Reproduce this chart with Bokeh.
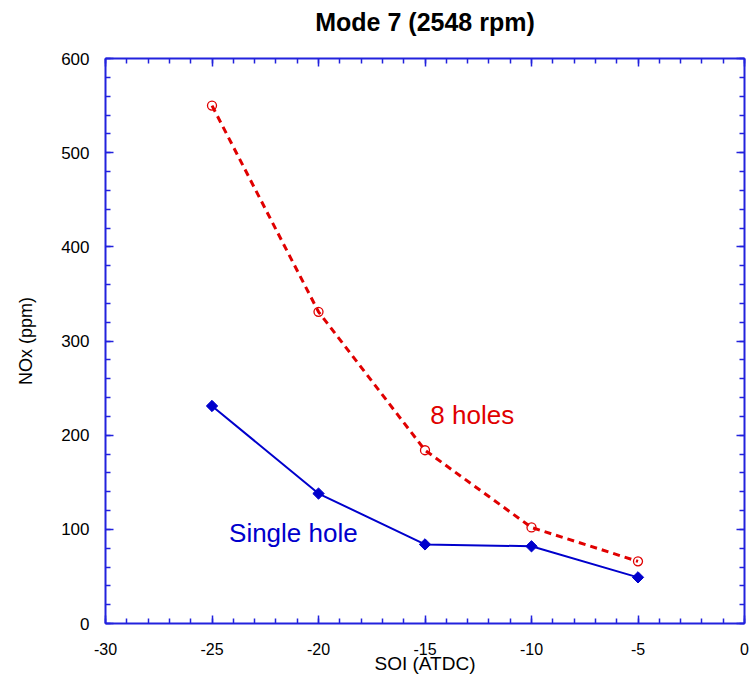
from bokeh.plotting import figure
from bokeh.models import Range1d, LinearAxis, SingleIntervalTicker, Label, CustomJSTickFormatter
from bokeh.embed import file_html
from bokeh.resources import INLINE
import math

# Data
soi = [-25, -20, -15, -10, -5]
nox_8holes = [550, 331, 184, 102, 66]
nox_single = [231, 138, 84, 82, 49]

series_names = ["8 holes", "Single hole"]
label_x = [-14.75, -24.2]
label_y = [221, 96]

x_ticks_interval = 5
y_ticks_interval = 100

AXIS_COLOR = "#2222dd"
FONT = "Liberation Sans"
W, H = 753, 680

p = figure(width=W, height=H, output_backend="svg", toolbar_location=None,
           x_range=Range1d(-30, 0), y_range=Range1d(0, 600),
           min_border_left=105, min_border_right=9, min_border_top=58, min_border_bottom=57,
           x_axis_label="SOI (ATDC)", y_axis_label="NOx (ppm)")
p.outline_line_color = None
p.xgrid.visible = False
p.ygrid.visible = False

p.title.text = "Mode 7 (2548 rpm)"
p.title.align = "center"
p.title.offset = 4
p.title.text_font = FONT
p.title.text_font_size = "25px"
p.title.text_font_style = "bold"
p.title.text_color = "black"
p.title.standoff = 6
p.title.padding = dict(left=0, right=0, top=0, bottom=20)

xt = SingleIntervalTicker(interval=x_ticks_interval, num_minor_ticks=5)
yt = SingleIntervalTicker(interval=y_ticks_interval, num_minor_ticks=5)

p.add_layout(LinearAxis(), "right")
p.add_layout(LinearAxis(), "above")

for ax in p.xaxis:
    ax.ticker = xt
for ax in p.yaxis:
    ax.ticker = yt

for ax in p.axis:
    ax.axis_line_color = AXIS_COLOR
    ax.axis_line_width = 2
    ax.major_tick_line_color = AXIS_COLOR
    ax.minor_tick_line_color = AXIS_COLOR
    ax.major_tick_line_width = 1.5
    ax.minor_tick_line_width = 1.5
    ax.major_tick_in = 8
    ax.major_tick_out = 0
    ax.minor_tick_in = 5
    ax.minor_tick_out = 0
    ax.major_label_text_font = FONT
    ax.major_label_text_font_size = "17px"
    ax.major_label_text_color = "black"
    ax.axis_label_text_font = FONT
    ax.axis_label_text_font_style = "normal"
    ax.axis_label_text_color = "black"
    ax.formatter = CustomJSTickFormatter(code="return String(tick);")

# mirrored axes: no labels
for ax in (p.right[0], p.above[0]):
    ax.formatter = CustomJSTickFormatter(code="return '';")
    ax.major_label_standoff = 0

p.below[0].major_label_text_font_size = "16px"
p.below[0].major_label_standoff = 19
p.below[0].axis_label_standoff = -5
p.below[0].axis_label_text_font_size = "19px"
p.left[0].major_label_standoff = 16
p.left[0].axis_label_standoff = 22
p.left[0].axis_label_text_font_size = "18px"

RED = "#e00000"
BLUE = "#0000cc"

p.line(soi, nox_8holes, line_color=RED, line_width=3, line_dash="7 5")
p.scatter(soi, nox_8holes, marker="circle", size=9, line_color=RED, fill_color=None, line_width=1.3)

p.line(soi, nox_single, line_color=BLUE, line_width=2)
p.scatter(soi, nox_single, marker="square", angle=math.pi / 4, size=8, line_color=BLUE, fill_color=BLUE)

for name, lx, ly, col in zip(series_names, label_x, label_y, [RED, BLUE]):
    p.add_layout(Label(x=lx, y=ly, text=name, text_color=col, text_font=FONT,
                       text_font_size="26px", text_baseline="alphabetic", text_align="left"))

open("out.html", "w").write(file_html(p, INLINE))
